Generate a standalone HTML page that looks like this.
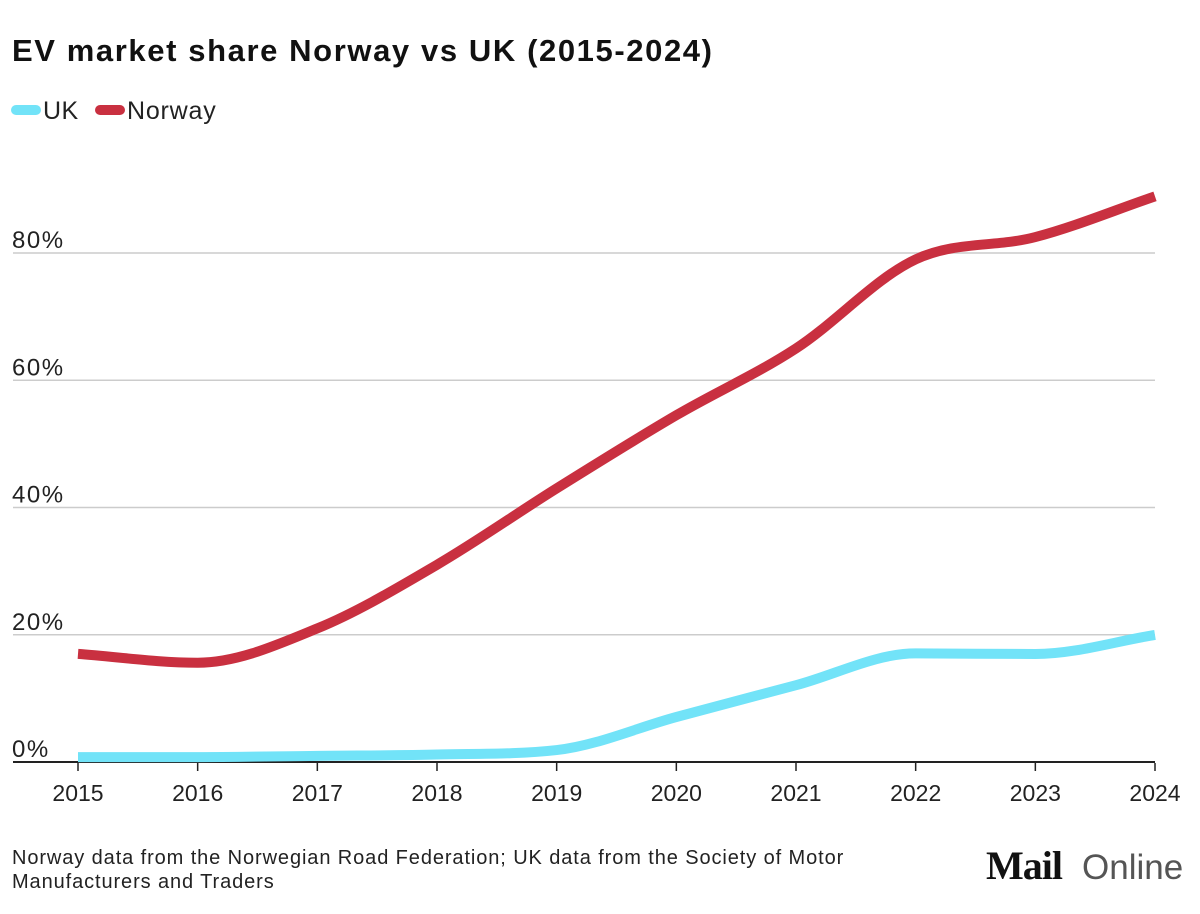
<!DOCTYPE html>
<html><head><meta charset="utf-8">
<style>
body{margin:0;background:#fff;width:1200px;height:909px;overflow:hidden;font-family:"Liberation Sans",sans-serif;}
</style></head>
<body>
<svg width="1200" height="909" id="chart">
<text x="12" y="61" font-size="31" font-weight="bold" fill="#111" letter-spacing="1.6">EV market share Norway vs UK (2015-2024)</text>
<g>
<line x1="16" y1="110" x2="36" y2="110" stroke="#72e3f8" stroke-width="10" stroke-linecap="round"/>
<text x="43" y="119" font-size="25" fill="#222" letter-spacing="0.5">UK</text>
<line x1="100" y1="110" x2="120" y2="110" stroke="#c93040" stroke-width="10" stroke-linecap="round"/>
<text x="127" y="119" font-size="25" fill="#222" letter-spacing="0.8">Norway</text>
</g>
<g id="grid"></g>
<g id="series"></g>
<text x="12" y="864" font-size="20" fill="#222" letter-spacing="0.9">Norway data from the Norwegian Road Federation; UK data from the Society of Motor</text>
<text x="12" y="888" font-size="20" fill="#222" letter-spacing="0.9">Manufacturers and Traders</text>
<g>
<text x="986" y="879" font-size="40" font-weight="bold" font-family="'Liberation Serif',serif" fill="#111" letter-spacing="-1">Mail</text>
<text x="1082" y="879" font-size="35" fill="#555">Online</text>
</g>
</svg>
<script>
const years=[2015,2016,2017,2018,2019,2020,2021,2022,2023,2024];
const norway=[17,15.6,21,31,43,54.5,65,79,82.5,88.9];
const uk=[0.3,0.3,0.5,0.7,1.4,6.6,11.6,16.6,16.5,19.5];
const yTicks=[0,20,40,60,80];
const NS="http://www.w3.org/2000/svg";
const X=v=>78+(v-2015)*(1155-78)/9;
const Y=v=>762-v*(762-253)/80;
const grid=document.getElementById('grid'),ser=document.getElementById('series');
function mk(t,a,p){const e=document.createElementNS(NS,t);for(const k in a)e.setAttribute(k,a[k]);p.appendChild(e);return e;}
yTicks.forEach(t=>{
 const l=mk('line',{x1:13,x2:1155,y1:Y(t),y2:Y(t),stroke:t===0?'#222':'#ccc','stroke-width':t===0?2:1.5},grid);
 
 
 const tx=mk('text',{x:12,y:Y(t)-5,'font-size':24,fill:'#222','letter-spacing':1.5},grid);tx.textContent=t+'%';
 
 
});
years.forEach(y=>{
 const l=mk('line',{x1:X(y),x2:X(y),y1:763,y2:771,stroke:'#222','stroke-width':1.5},grid);
 
 
 const tx=mk('text',{x:X(y),y:801,'font-size':23,fill:'#222','text-anchor':'middle'},grid);tx.textContent=y;
 
 
});
function monotone(xs,ys){
 const n=xs.length,d=[],m=[];
 for(let i=0;i<n-1;i++)d.push((ys[i+1]-ys[i])/(xs[i+1]-xs[i]));
 m[0]=d[0];m[n-1]=d[n-2];
 for(let i=1;i<n-1;i++){const s=(d[i-1]+d[i])/2;m[i]=d[i-1]*d[i]<=0?0:Math.sign(s)*Math.min(Math.abs(s),3*Math.min(Math.abs(d[i-1]),Math.abs(d[i])));}
 let p='M'+xs[0]+','+ys[0];
 for(let i=0;i<n-1;i++){const h=(xs[i+1]-xs[i])/3;
  p+=`C${xs[i]+h},${ys[i]+m[i]*h} ${xs[i+1]-h},${ys[i+1]-m[i+1]*h} ${xs[i+1]},${ys[i+1]}`;}
 return p;
}
const xs=years.map(X);
const pu=mk('path',{d:monotone(xs,uk.map(v=>Y(v)-3)),fill:'none',stroke:'#72e3f8','stroke-width':10},ser);


const pn=mk('path',{d:monotone(xs,norway.map(Y)),fill:'none',stroke:'#c93040','stroke-width':10},ser);


</script>
</body></html>
